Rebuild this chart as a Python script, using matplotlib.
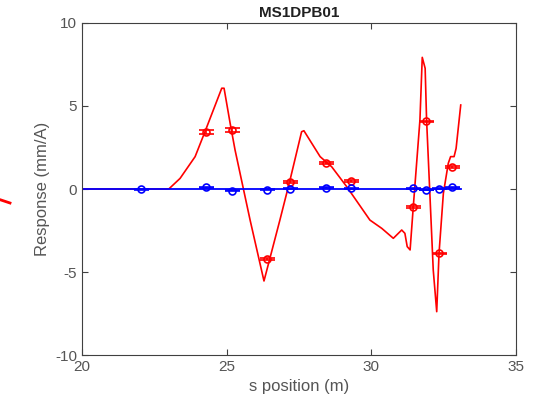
import matplotlib
matplotlib.use("Agg")
import matplotlib.pyplot as plt
from matplotlib.lines import Line2D

plt.rcParams['font.family'] = ['Liberation Sans', 'DejaVu Sans']
plt.rcParams['axes.unicode_minus'] = False

# model curve (red)
s_model = [20.0, 23.0, 23.39, 23.91, 24.25, 24.83, 24.91, 25.12, 25.29, 25.81, 26.29,
           26.84, 27.19, 27.59, 27.67, 28.23, 28.63, 29.15, 29.95, 30.36, 30.76, 31.05,
           31.16, 31.24, 31.34, 31.45, 31.68, 31.76, 31.86, 31.91, 32.14, 32.26, 32.34,
           32.49, 32.66, 32.74, 32.86, 32.93, 33.09]
y_model = [0.0, 0.0, 0.64, 1.95, 3.45, 6.07, 6.07, 3.96, 2.35, -1.87, -5.54,
           -1.87, 0.54, 3.45, 3.51, 1.95, 1.34, 0.14, -1.87, -2.37, -2.97, -2.47,
           -2.67, -3.47, -3.67, -1.07, 4.16, 7.93, 7.27, 4.16, -4.88, -7.39, -3.87,
           -0.26, 1.55, 1.95, 1.95, 2.45, 5.06]

# blue model line
s_blue_line = [20.0, 33.09]
y_blue_line = [0.0, 0.0]

# measured points
s_red = [24.29, 25.18, 26.39, 27.19, 28.43, 29.30, 31.44, 31.89, 32.34, 32.79]
y_red = [3.43, 3.55, -4.22, 0.42, 1.57, 0.48, -1.08, 4.07, -3.87, 1.33]
e_red = [0.12, 0.12, 0.04, 0.04, 0.04, 0.04, 0.04, 0.04, 0.04, 0.04]

s_blue = [22.04, 24.29, 25.18, 26.39, 27.19, 28.43, 29.30, 31.44, 31.89, 32.34, 32.79]
y_blue = [0.0, 0.12, -0.10, -0.05, 0.02, 0.08, 0.05, 0.04, -0.06, 0.02, 0.10]
e_blue = [0.03] * 11

fig = plt.figure(figsize=(5.38, 4.12), dpi=100)
ax = fig.add_axes([0.1524, 0.1383, 0.8067, 0.8059])

ax.plot(s_model, y_model, color='red', lw=1.2)
ax.errorbar(s_red, y_red, yerr=e_red, fmt='o', color='red', mfc='none', ms=5,
            mew=1.2, capsize=5.4, elinewidth=1.2, capthick=1.5)
ax.plot(s_blue_line, y_blue_line, color='blue', lw=1.3)
ax.errorbar(s_blue, y_blue, yerr=e_blue, fmt='o', color='blue', mfc='none', ms=5,
            mew=1.2, capsize=5.4, elinewidth=1.2, capthick=1.5)

ax.set_xlim(20, 35)
ax.set_ylim(-10, 10)
ax.set_xticks([20, 25, 30, 35])
ax.set_yticks([-10, -5, 0, 5, 10])
gray = '#404040'
for sp in ax.spines.values():
    sp.set_color(gray)
ax.tick_params(direction='in', colors=gray, labelsize=11, top=True, right=True, length=4)
ax.tick_params(labelcolor='#555555')
ax.set_xlabel('s position (m)', fontsize=12, color='#555555')
ax.set_ylabel('Response (mm/A)', fontsize=12, color='#555555')
ax.set_title('MS1DPB01', fontsize=11, fontweight='bold', color='#202020', pad=4)

fig.add_artist(Line2D([1 / 538, 10 / 538], [1 - 200 / 412, 1 - 203 / 412],
                      transform=fig.transFigure, color='red', lw=2))

fig.savefig('out.png', dpi=100)
